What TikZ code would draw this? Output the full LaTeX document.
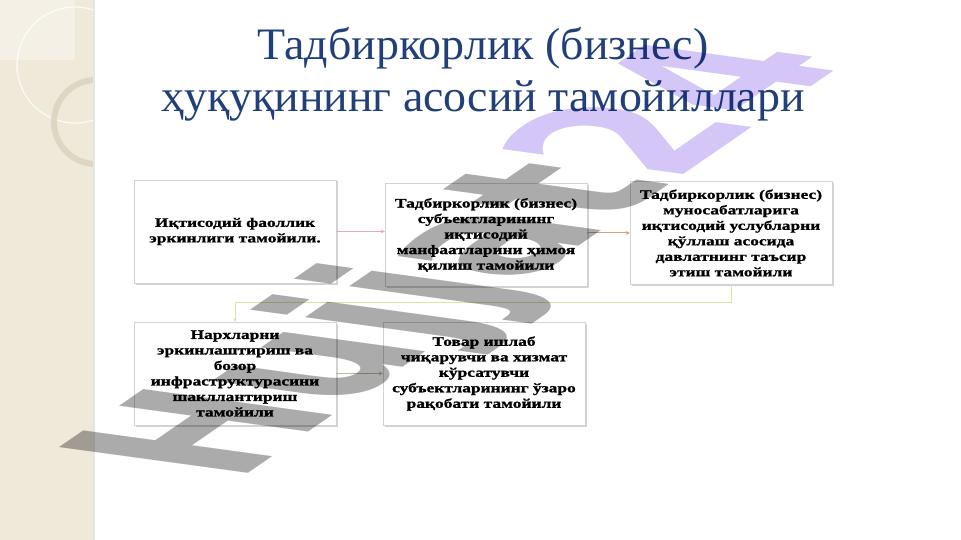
\documentclass[tikz,border=0pt]{standalone}
\usepackage{fontspec}
\setmainfont{Liberation Serif}
\newfontfamily\titlefont[FakeStretch=1.02]{Liberation Serif}
\newfontfamily\boxfont[FakeStretch=1.34, BoldFeatures={FakeBold=1.2}]{Liberation Serif}
\newfontfamily\wmfont{DejaVu Sans}
\usetikzlibrary{arrows.meta,
                shadows}
\definecolor{titleblue}{HTML}{21407A}
\definecolor{bandbeige}{HTML}{EFE9D9}
\definecolor{ringtan}{HTML}{DAD2BE}
\definecolor{wmgray}{HTML}{ABABAB}
\definecolor{wmpurple}{HTML}{D4C7F8}

\begin{document}
\begin{tikzpicture}[x=1pt, y=-1pt,
    box/.style={draw=gray!35, fill=white, minimum width=202pt, minimum height=103pt,
                align=center, font=\boxfont\bfseries\fontsize{13}{15.5}\selectfont,
                drop shadow={opacity=0.35, shadow xshift=1.5pt, shadow yshift=-1.5pt}},
    link/.style={-{Stealth[length=4pt, width=4pt]}, line width=1pt}]
    \useasboundingbox (0,0) rectangle (961,540);
    \fill[white] (0,0) rectangle (961,540);
    % left band
    \fill[bandbeige] (0,0) rectangle (95,540);
    \fill[white, opacity=0.35] (0,0) rectangle (75,60);
    \begin{scope}
        \clip (0,0) rectangle (94,540);
        \draw[white, line width=1.2pt, opacity=0.8] (75,65) circle [radius=58];
        \draw[ringtan, line width=6pt, opacity=0.8] (96,122) circle [radius=42];
    \end{scope}
    \draw[black!10, line width=2pt] (94,0) -- (94,540);

    % title
    \node[text=titleblue, align=center, font=\titlefont\fontsize{45}{52}\selectfont] (title) at (483,74)
        {Тадбиркорлик (бизнес)\\ҳуқуқининг асосий тамойиллари};

    % boxes
    \node[box] (b1) at (235,231.5) {Иқтисодий фаоллик\\эркинлиги тамойили.};
    \node[box] (b2) at (486,235) {Тадбиркорлик (бизнес)\\субъектларининг\\иқтисодий\\манфаатларини ҳимоя\\қилиш тамойили};
    \node[box] (b3) at (731,233) {Тадбиркорлик (бизнес)\\муносабатларига\\иқтисодий услубларни\\қўллаш асосида\\давлатнинг таъсир\\этиш тамойили};
    \node[box] (b4) at (235,373.5) {Нархларни\\эркинлаштириш ва\\бозор\\инфраструктурасини\\шакллантириш\\тамойили};
    \node[box] (b5) at (484,373.5) {Товар ишлаб\\чиқарувчи ва хизмат\\кўрсатувчи\\субъектларининг ўзаро\\рақобати тамойили};

    % links
    \draw[link, draw={rgb,255:red,233;green,166;blue,184}] (b1.east) -- (b1.east -| b2.west);
    \draw[link, draw={rgb,255:red,214;green,162;blue,122}] (b2.east |- b3.west) -- (b3.west);
    \draw[link, draw={rgb,255:red,220;green,227;blue,168}] (b3.south) -- ++(0,18) -| (b4.north);
    \draw[link, draw={rgb,255:red,189;green,185;blue,160}] (b4.east) -- (b5.west);

    % watermark
    \begin{scope}[shift={(236,482)}, rotate=34.5, xslant=-1.1, xscale=0.98, yscale=1.1]
        \node[transform shape, anchor=base west, inner sep=0pt, blend mode=multiply,
              font=\wmfont\bfseries\fontsize{160}{160}\selectfont] (mark) at (0,0)
            {\textcolor{wmgray}{Hujjat}\textcolor{wmpurple}{24}};
    \end{scope}
\end{tikzpicture}
\end{document}
